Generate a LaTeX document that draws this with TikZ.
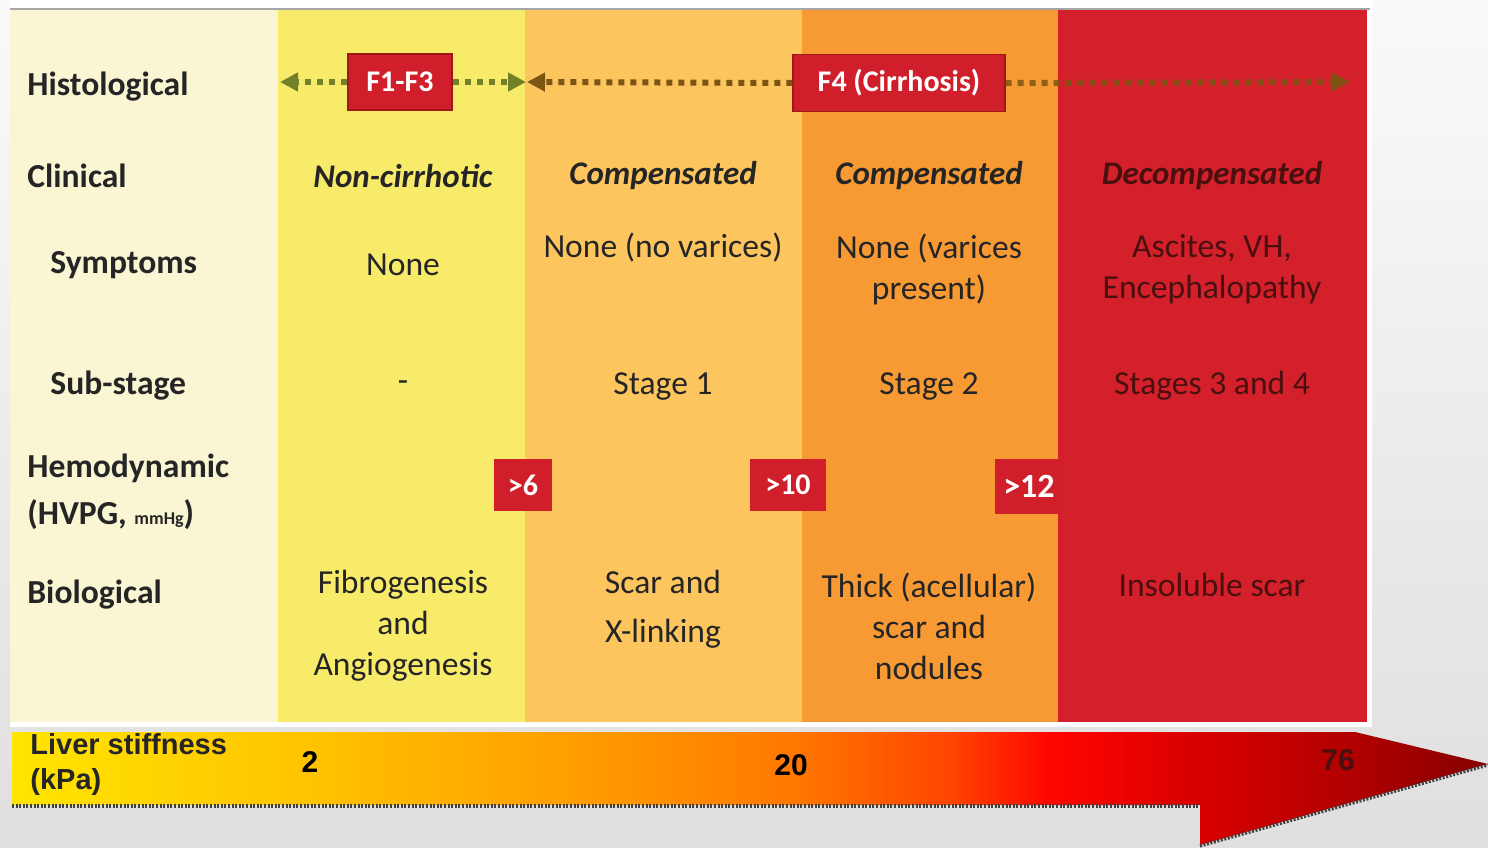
\documentclass[tikz,border=0pt]{standalone}
\usepackage{fontspec}
\setmainfont{Carlito}
\newfontfamily\arialf{Liberation Sans}
\usetikzlibrary{arrows.meta}
\definecolor{colA}{HTML}{FAF6D4}
\definecolor{colB}{HTML}{F9EB6A}
\definecolor{colC}{HTML}{FDC55E}
\definecolor{colD}{HTML}{F79A34}
\definecolor{colE}{HTML}{D3202A}
\definecolor{boxred}{HTML}{D01F2A}
\definecolor{boxdark}{HTML}{9E1818}
\definecolor{txt}{HTML}{252525}
\definecolor{txtred}{HTML}{4A1010}
\definecolor{olivearr}{HTML}{728128}
\definecolor{brownarr}{HTML}{7B5512}
\definecolor{bgtop}{HTML}{FAFAFA}
\definecolor{bgbot}{HTML}{DFDFDF}
\definecolor{sA}{HTML}{FFE500}
\definecolor{sB}{HTML}{FFC400}
\definecolor{sC}{HTML}{FF9A00}
\definecolor{sD}{HTML}{FF7800}
\definecolor{sE}{HTML}{FF4400}
\definecolor{sF}{HTML}{FF0500}
\definecolor{sG}{HTML}{D80000}
\definecolor{sH}{HTML}{B20000}
\definecolor{sI}{HTML}{850000}
\pgfdeclarehorizontalshading{stiffshade}{100bp}{color(0bp)=(sA); color(25bp)=(sA); color(34.8bp)=(sB); color(44.9bp)=(sC); color(51.4bp)=(sD); color(56.8bp)=(sE); color(60.2bp)=(sF); color(65.2bp)=(sG); color(70.3bp)=(sH); color(75bp)=(sI); color(100bp)=(sI)}
\begin{document}
\begin{tikzpicture}[x=0.5pt,y=-0.5pt,
  lab/.style={font=\fontsize{16.8}{19}\selectfont\bfseries, anchor=west, text=txt, inner sep=0pt},
  cell/.style={font=\fontsize{16.8}{20.5}\selectfont, align=center, text=txt, inner sep=0pt},
  clin/.style={font=\fontsize{16.5}{20}\selectfont\bfseries\itshape, align=center, text=txt, inner sep=0pt},
  redcell/.style={cell, text=txtred},
  badge/.style={fill=boxred, draw=boxdark, line width=0.6pt, text=white, inner sep=0pt, font=\fontsize{15}{18}\selectfont\bfseries},
  hemo/.style={fill=boxred, draw=none, text=white, inner sep=0pt, font=\fontsize{15}{18}\selectfont\bfseries},
  histarrow/.style={line width=3pt, dash pattern=on 3pt off 3pt, -{Triangle[length=9pt,width=9pt]}},
  axnum/.style={font=\arialf\fontsize{15}{17}\selectfont\bfseries, inner sep=0pt}
]
\useasboundingbox (0,0) rectangle (1488,847);
% background
\shade[top color=bgtop, bottom color=bgbot] (0,0) rectangle (1488,847);
\fill[white] (10,0) rectangle (1372,727);
% columns
\fill[colA] (10,10) rectangle (278,722);
\fill[colB] (278,10) rectangle (525,722);
\fill[colC] (525,10) rectangle (802,722);
\fill[colD] (802,10) rectangle (1058,722);
\fill[colE] (1058,10) rectangle (1367,722);
\draw[gray!70, line width=0.8pt] (10,9) -- (1370,9);

% row labels
\node[lab] (lhist) at (27,87) {Histological};
\node[lab] (lclin) at (27,176) {Clinical};
\node[lab] (lsymp) at (50,265) {Symptoms};
\node[lab] (lsub) at (50,386) {Sub-stage};
\node[lab] (lhemo) at (27,468) {Hemodynamic};
\node[lab] (lhvpg) at (27,515) {(HVPG, {\fontsize{9}{10}\selectfont mmHg})};
\node[lab] (lbio) at (27,595) {Biological};

% histological boxes and arrows
\node[badge, minimum width=52pt, minimum height=28pt] (f13) at (400,82) {F1-F3};
\node[badge, minimum width=106pt, minimum height=28.5pt] (f4) at (899,83) {F4 (Cirrhosis)};
\coordinate (h1l) at (280,82);
\coordinate (h1r) at (526,82);
\coordinate (h2l) at (527,82);
\coordinate (h2r) at (1350,82);
\draw[histarrow, olivearr] (f13.west) -- (h1l);
\draw[histarrow, olivearr] (f13.east) -- (h1r);
\draw[histarrow, brownarr] (f4.west) -- (h2l);
\draw[histarrow, brownarr, opacity=0.85] (f4.east) -- (h2r);

% clinical
\node[clin] (c1) at (403,176) {Non-cirrhotic};
\node[clin] (c2) at (663,176) {Compensated};
\node[clin] (c3) at (929,176) {Compensated};
\node[clin, text=txtred] (c4) at (1212,176) {Decompensated};

% symptoms
\node[cell] (s1) at (403,265) {None};
\node[cell] (s2) at (663,248) {None (no varices)};
\node[cell] (s3) at (929,269) {None (varices\\present)};
\node[redcell] (s4) at (1212,269) {Ascites, VH,\\Encephalopathy};

% sub-stage
\node[cell] (u1) at (403,386) {-};
\node[cell] (u2) at (663,386) {Stage 1};
\node[cell] (u3) at (929,386) {Stage 2};
\node[redcell] (u4) at (1212,386) {Stages 3 and 4};

% hemodynamic
\node[hemo, minimum width=29pt, minimum height=26pt] (hv1) at (523,485) {>6};
\node[hemo, minimum width=38pt, minimum height=26pt] (hv2) at (788,485) {>10};
\node[hemo, minimum width=34pt, minimum height=27.5pt, font=\fontsize{17}{20}\selectfont\bfseries] (hv3) at (1029,486) {>12};

% biological
\node[cell] (b1) at (403,626) {Fibrogenesis\\and\\Angiogenesis};
\node[cell] (b2) at (663,609) {Scar and\\[4pt]X-linking};
\node[cell] (b3) at (929,626) {Thick (acellular)\\scar and\\nodules};
\node[redcell] (b4) at (1212,585) {Insoluble scar};

% liver stiffness arrow
\shade[shading=stiffshade] (12,732) -- (1355,732) -- (1488,764) -- (1200,845) -- (1200,805) -- (12,805) -- cycle;
\draw[black!75, line width=1.6pt, dash pattern=on 1pt off 0.8pt] (12,806) -- (1200,806);
\draw[black!75, line width=1.6pt, dash pattern=on 1pt off 0.8pt] (1200,846) -- (1488,765);
\node[font=\arialf\fontsize{14.5}{17.5}\selectfont\bfseries, anchor=west, align=left, inner sep=0pt, text=txt] (lstiff) at (30,764) {Liver stiffness\\(kPa)};
\node[axnum] (n2) at (310,762) {2};
\node[axnum] (n20) at (791,765) {20};
\node[axnum, text=txtred] (n76) at (1338,760) {76};
\end{tikzpicture}
\end{document}
